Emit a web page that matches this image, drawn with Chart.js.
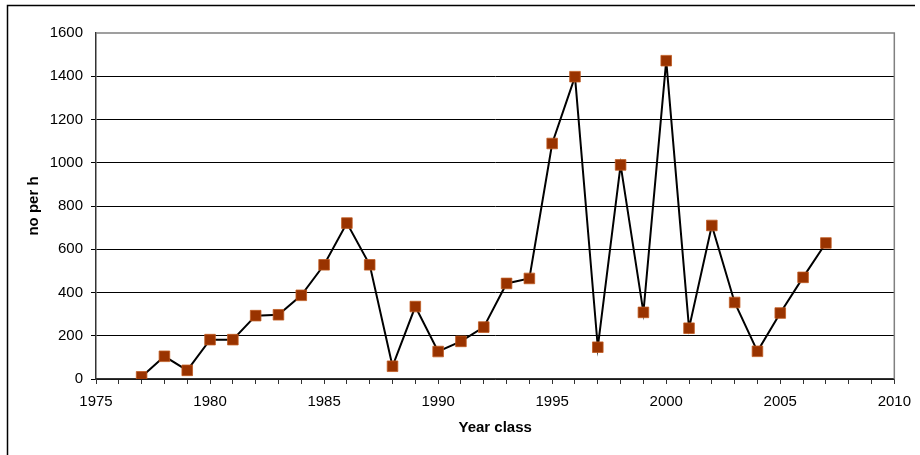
<!DOCTYPE html>
<html>
<head>
<meta charset="utf-8">
<script src="https://cdn.jsdelivr.net/npm/chart.js@4.4.1/dist/chart.umd.min.js"></script>
<style>
  html, body { margin: 0; padding: 0; background: #fff; }
  #wrap { position: relative; width: 920px; height: 455px; }
</style>
</head>
<body>
<div id="wrap"><canvas id="c" width="920" height="455"></canvas></div>
<script>
const years = [1977,1978,1979,1980,1981,1982,1983,1984,1985,1986,1987,1988,1989,1990,1991,1992,1993,1994,1995,1996,1997,1998,1999,2000,2001,2002,2003,2004,2005,2006,2007];
const noPerH = [10,105,40,182,182,293,297,387,528,721,528,59,335,127,174,240,442,465,1089,1398,147,990,308,1472,235,710,354,128,305,470,629];
const yTicks = [0,200,400,600,800,1000,1200,1400,1600];
const xMajorLabels = [1975,1980,1985,1990,1995,2000,2005,2010];
const xTitle = 'Year class';
const yTitle = 'no per h';

const FONT = 'Liberation Sans, Arial, sans-serif';

const framePlugin = {
  id: 'frame',
  beforeDraw(chart) {
    const ctx = chart.ctx;
    ctx.save();
    ctx.strokeStyle = '#000';
    ctx.lineWidth = 1.5;
    ctx.beginPath();
    ctx.moveTo(7.5, 455);
    ctx.lineTo(7.5, 5.5);
    ctx.lineTo(915, 5.5);
    ctx.stroke();
    ctx.restore();
  },
  beforeDatasetsDraw(chart) {
    const a = chart.chartArea;
    const ctx = chart.ctx;
    ctx.save();
    ctx.strokeStyle = '#808080';
    ctx.lineWidth = 1.5;
    ctx.beginPath();
    ctx.moveTo(a.left, a.top);
    ctx.lineTo(a.right, a.top);
    ctx.lineTo(a.right, a.bottom);
    ctx.stroke();
    ctx.restore();
  }
};

new Chart(document.getElementById('c'), {
  type: 'line',
  data: {
    datasets: [{
      data: years.map((y, i) => ({ x: y, y: noPerH[i] })),
      borderColor: '#000',
      borderWidth: 2,
      pointStyle: 'rect',
      pointRadius: 7.5,
      pointBackgroundColor: '#993300',
      pointBorderColor: '#c05a20',
      pointBorderWidth: 0.8,
      tension: 0,
      fill: false
    }]
  },
  options: {
    responsive: false,
    animation: false,
    devicePixelRatio: 1,
    layout: { padding: { left: 0, top: 33, right: 23, bottom: 0 } },
    plugins: { legend: { display: false }, tooltip: { enabled: false } },
    scales: {
      x: {
        type: 'linear',
        min: 1975,
        max: 2010,
        afterFit(scale) { scale.height = 76; },
        afterBuildTicks(scale) {
          const t = [];
          for (let v = 1975; v <= 2010; v++) t.push({ value: v });
          scale.ticks = t;
        },
        ticks: {
          autoSkip: false,
          maxRotation: 0,
          padding: 9,
          color: '#000',
          font: { family: FONT, size: 15 },
          callback: (v) => xMajorLabels.includes(v) ? String(v) : ''
        },
        grid: { drawOnChartArea: false, drawTicks: true, tickLength: 5, color: '#333', lineWidth: 1 },
        border: { display: true, color: '#333', width: 1.5 },
        title: { display: true, text: xTitle, color: '#000', font: { family: FONT, size: 15, weight: 'bold' }, padding: { top: 0, bottom: 18 } }
      },
      y: {
        min: 0,
        max: 1600,
        afterFit(scale) { scale.width = 96; },
        afterBuildTicks(scale) { scale.ticks = yTicks.map(v => ({ value: v })); },
        ticks: {
          padding: 8,
          color: '#000',
          font: { family: FONT, size: 15 },
          callback: (v) => String(v)
        },
        grid: {
          drawTicks: true,
          tickLength: 5,
          color: (c) => c.tick && c.tick.value === 1600 ? 'rgba(0,0,0,0)' : '#000',
          lineWidth: 1
        },
        border: { display: true, color: '#333', width: 1.5 },
        title: { display: true, text: yTitle, color: '#000', font: { family: FONT, size: 15, weight: 'bold' }, padding: { top: 25, bottom: 0 } }
      }
    }
  },
  plugins: [framePlugin]
});
</script>
</body>
</html>
